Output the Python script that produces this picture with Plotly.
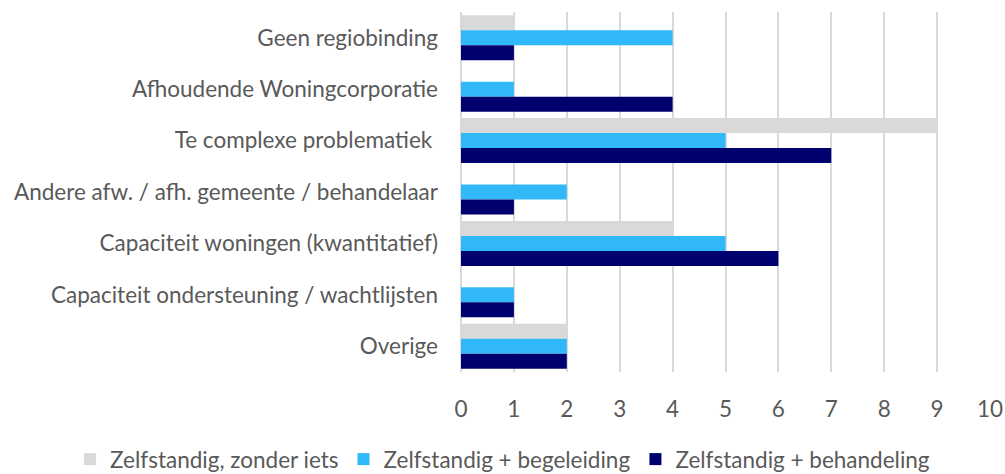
import plotly.graph_objects as go

categories = [
    "Geen regiobinding",
    "Afhoudende Woningcorporatie",
    "Te complexe problematiek ",
    "Andere afw. / afh. gemeente / behandelaar",
    "Capaciteit woningen (kwantitatief)",
    "Capaciteit ondersteuning / wachtlijsten",
    "Overige",
]
series_names = ["Zelfstandig, zonder iets", "Zelfstandig + begeleiding", "Zelfstandig + behandeling"]
zonder = [1, 0, 9, 0, 4, 0, 2]
begeleiding = [4, 1, 5, 2, 5, 1, 2]
behandeling = [1, 4, 7, 1, 6, 1, 2]
colors = ["#D9D9D9", "#30B8F8", "#00006E"]
x_ticks = [0, 1, 2, 3, 4, 5, 6, 7, 8, 9, 10]

fig = go.Figure()
for name, vals, col in zip(series_names, [zonder, begeleiding, behandeling], colors):
    fig.add_trace(go.Bar(
        y=categories, x=vals, name=name, orientation="h",
        marker=dict(color=col, line=dict(width=0)),
    ))

font_family = "Lato, 'Open Sans', sans-serif"
fs = 22.5
fig.update_layout(
    width=1005, height=474,
    margin=dict(l=461, r=15, t=12, b=102, autoexpand=False),
    paper_bgcolor="white", plot_bgcolor="white",
    barmode="group", bargap=0.125, bargroupgap=0,
    font=dict(family=font_family, size=fs, color="#595959"),
    xaxis=dict(
        range=[0, 10], tickvals=x_ticks, showgrid=True, gridcolor="#D9D9D9",
        gridwidth=1.5, zeroline=True, zerolinecolor="#D9D9D9", zerolinewidth=1.5,
        showline=False, ticks="", tickfont=dict(size=fs, color="#595959"),
        ticklabelstandoff=21, automargin=False,
    ),
    yaxis=dict(
        autorange="reversed", showgrid=False, showline=False, ticks="",
        tickfont=dict(size=fs, color="#595959"), ticklabelstandoff=22,
        automargin=False,
    ),
    legend=dict(
        orientation="h",
        x=-0.739, xanchor="left", y=-0.243, yanchor="middle",
        font=dict(size=fs, color="#595959"), itemwidth=30,
        traceorder="normal",
    ),
    showlegend=True,
)

fig.write_html(
    "out.html",
    config={"displayModeBar": False},
    post_script="document.body.style.margin='0';document.body.style.padding='0';",
)
